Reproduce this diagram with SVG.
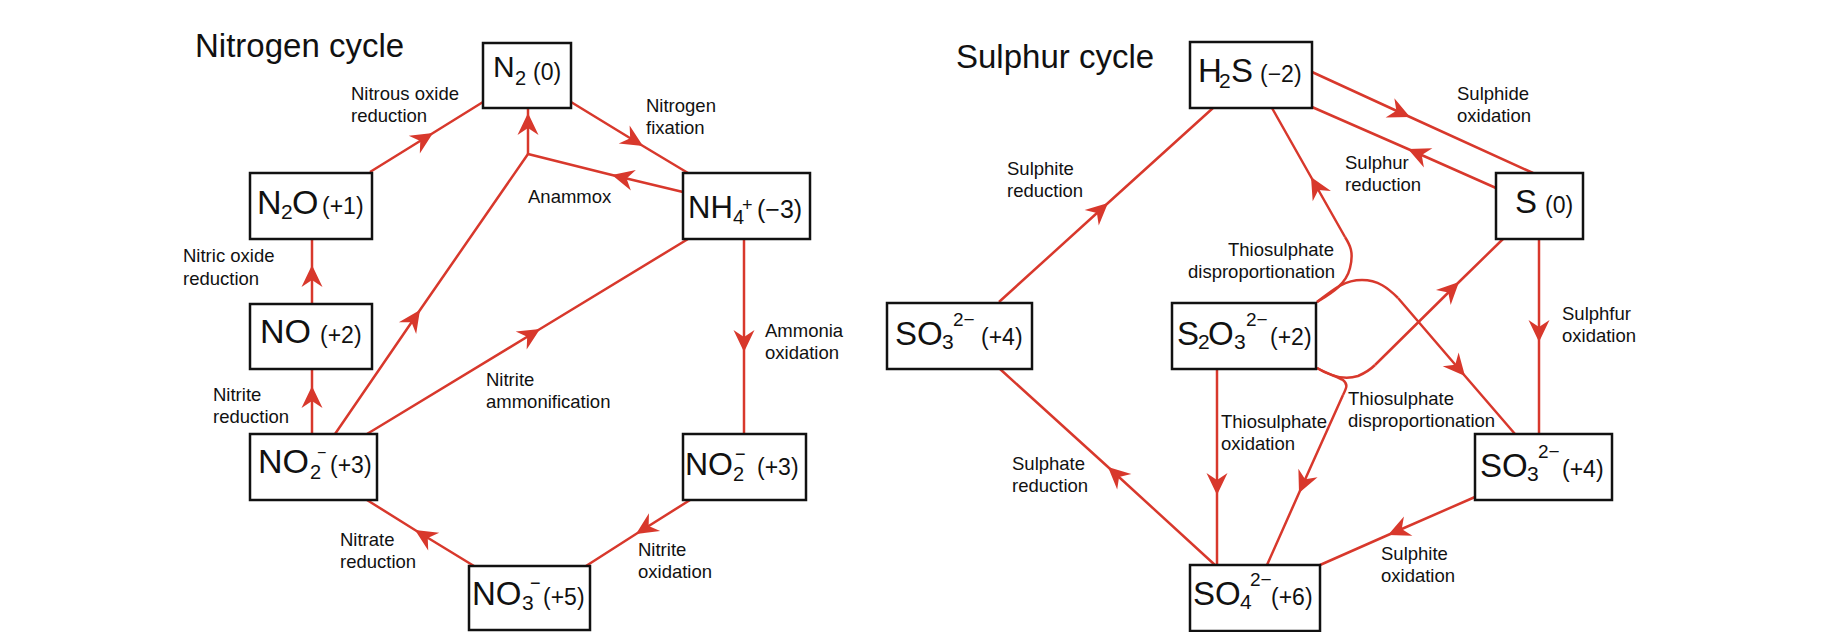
<svg xmlns="http://www.w3.org/2000/svg" width="1837" height="632" viewBox="0 0 1837 632">
<style>
.bg{fill:#fff}
.box{fill:#fff;stroke:#111;stroke-width:2.5}
.c{fill:none;stroke:#d8382c;stroke-width:2.5;stroke-linejoin:round}
.a{marker-mid:url(#ah)}
text{font-family:"Liberation Sans",Arial,Helvetica,sans-serif;fill:#111}
.t{font-size:33px}
.l{font-size:18.5px}
.m{font-size:34px}
.sb{font-size:21px}
.sp{font-size:19px}
.ox{font-size:23px}
</style>
<defs>
<marker id="ah" markerUnits="userSpaceOnUse" markerWidth="26" markerHeight="26" viewBox="-24 -13 26 26" refX="0" refY="0" orient="auto">
<path d="M0,0 L-22,-10.5 L-15,0 L-22,10.5 Z" fill="#d8382c"/>
</marker>
</defs>
<rect class="bg" x="0" y="0" width="1837" height="632"/>

<g id="titles">
<text class="t" x="195" y="57">Nitrogen cycle</text>
<text class="t" x="956" y="68">Sulphur cycle</text>
</g>

<g id="connectors">
<!-- Nitrogen -->
<path class="c a" d="M370,172 L433,133 L483,102"/>
<path class="c a" d="M571,102 L643,146 L688,173"/>
<path class="c a" d="M683,192 L612,175 L528,154"/>
<path class="c a" d="M528,154 L528,113 L528,108"/>
<path class="c a" d="M335,434 L420,310 L528,154"/>
<path class="c a" d="M367,434 L540,329 L688,239"/>
<path class="c a" d="M312,304 L312,265 L312,239"/>
<path class="c a" d="M312,434 L312,386 L312,369"/>
<path class="c a" d="M744,239 L744,352 L744,434"/>
<path class="c a" d="M690,500 L636,534 L586,566"/>
<path class="c a" d="M474,566 L415,530 L367,500"/>
<!-- Sulphur -->
<path class="c a" d="M999,302 L1108,203 L1213,108"/>
<path class="c a" d="M1312,72 L1410,117 L1533,173"/>
<path class="c a" d="M1496,188 L1408,149 L1312,107"/>
<path class="c a" d="M1539,239 L1539,342 L1539,434"/>
<path class="c a" d="M1475,497 L1388,535 L1320,565"/>
<path class="c a" d="M1217,369 L1217,495 L1217,565"/>
<path class="c a" d="M1215,565 L1108,467 L1000,369"/>
<!-- Thiosulphate disproportionation: S2O3 to H2S -->
<path class="c" d="M1317,302 C1330,294 1346,285 1350,268 C1354,252 1350,245 1345,237"/>
<path class="c a" d="M1345,237 L1311,177 L1272,108"/>
<!-- S2O3 to SO3 -->
<path class="c" d="M1317,302 C1335,288 1345,280 1362,280 C1378,280 1388,288 1398,298"/>
<path class="c a" d="M1398,298 L1465,376 L1515,434"/>
<!-- S2O3 to S -->
<path class="c" d="M1317,368 C1330,376 1345,380 1358,376 C1365,373 1370,370 1375,365"/>
<path class="c a" d="M1375,365 L1459,282 L1503,239"/>
<!-- S2O3 to SO4 -->
<path class="c" d="M1317,368 C1328,374 1338,377 1343,380 C1348,384 1347,387 1343,395"/>
<path class="c a" d="M1343,395 L1299,493 L1267,565"/>
</g>

<g id="labels">
<text class="l" x="351" y="100">Nitrous oxide</text>
<text class="l" x="351" y="122">reduction</text>
<text class="l" x="646" y="112">Nitrogen</text>
<text class="l" x="646" y="134">fixation</text>
<text class="l" x="528" y="203">Anammox</text>
<text class="l" x="183" y="262">Nitric oxide</text>
<text class="l" x="183" y="285">reduction</text>
<text class="l" x="213" y="401">Nitrite</text>
<text class="l" x="213" y="423">reduction</text>
<text class="l" x="486" y="386">Nitrite</text>
<text class="l" x="486" y="408">ammonification</text>
<text class="l" x="765" y="337">Ammonia</text>
<text class="l" x="765" y="359">oxidation</text>
<text class="l" x="340" y="546">Nitrate</text>
<text class="l" x="340" y="568">reduction</text>
<text class="l" x="638" y="556">Nitrite</text>
<text class="l" x="638" y="578">oxidation</text>
<text class="l" x="1007" y="175">Sulphite</text>
<text class="l" x="1007" y="197">reduction</text>
<text class="l" x="1457" y="100">Sulphide</text>
<text class="l" x="1457" y="122">oxidation</text>
<text class="l" x="1345" y="169">Sulphur</text>
<text class="l" x="1345" y="191">reduction</text>
<text class="l" x="1228" y="256">Thiosulphate</text>
<text class="l" x="1188" y="278">disproportionation</text>
<text class="l" x="1562" y="320">Sulphfur</text>
<text class="l" x="1562" y="342">oxidation</text>
<text class="l" x="1221" y="428">Thiosulphate</text>
<text class="l" x="1221" y="450">oxidation</text>
<text class="l" x="1348" y="405">Thiosulphate</text>
<text class="l" x="1348" y="427">disproportionation</text>
<text class="l" x="1012" y="470">Sulphate</text>
<text class="l" x="1012" y="492">reduction</text>
<text class="l" x="1381" y="560">Sulphite</text>
<text class="l" x="1381" y="582">oxidation</text>
</g>

<g id="n2">
<rect class="box" x="483" y="43" width="88" height="65"/>
<text><tspan class="m" x="493" y="77" style="font-size:30px">N</tspan><tspan class="sb" x="515" y="85" style="font-size:20px">2</tspan><tspan class="ox" x="533" y="80">(0)</tspan></text>
</g>
<g id="n2o">
<rect class="box" x="250" y="173" width="122" height="66"/>
<text><tspan class="m" x="257" y="214">N</tspan><tspan class="sb" x="281" y="219">2</tspan><tspan class="m" x="292" y="214">O</tspan><tspan class="ox" x="322" y="214">(+1)</tspan></text>
</g>
<g id="no">
<rect class="box" x="250" y="304" width="122" height="65"/>
<text><tspan class="m" x="260" y="343">NO</tspan><tspan class="ox" x="320" y="343">(+2)</tspan></text>
</g>
<g id="no2-left">
<rect class="box" x="250" y="434" width="127" height="66"/>
<text><tspan class="m" x="258" y="473">NO</tspan><tspan class="sb" x="310" y="479" style="font-size:20px">2</tspan><tspan class="sp" x="317" y="458" style="font-size:16px">−</tspan><tspan class="ox" x="330" y="473">(+3)</tspan></text>
</g>
<g id="nh4">
<rect class="box" x="683" y="173" width="127" height="66"/>
<text><tspan class="m" x="688" y="218" style="font-size:31px">NH</tspan><tspan class="sb" x="733" y="224" style="font-size:20px">4</tspan><tspan class="sp" x="742" y="211" style="font-size:18px">+</tspan><tspan class="ox" x="757" y="218" style="font-size:25px">(−3)</tspan></text>
</g>
<g id="no2-right">
<rect class="box" x="683" y="434" width="123" height="66"/>
<text><tspan class="m" x="685" y="475" style="font-size:32px">NO</tspan><tspan class="sb" x="733" y="481" style="font-size:20px">2</tspan><tspan class="sp" x="735" y="460" style="font-size:18px">−</tspan><tspan class="ox" x="757" y="475">(+3)</tspan></text>
</g>
<g id="no3">
<rect class="box" x="469" y="566" width="121" height="64"/>
<text><tspan class="m" x="472" y="605" style="font-size:33px">NO</tspan><tspan class="sb" x="522" y="610">3</tspan><tspan class="sp" x="530" y="589" style="font-size:18px">−</tspan><tspan class="ox" x="543" y="605">(+5)</tspan></text>
</g>

<g id="h2s">
<rect class="box" x="1190" y="42" width="122" height="66"/>
<text><tspan class="m" x="1198" y="82" style="font-size:33px">H</tspan><tspan class="sb" x="1219" y="88">2</tspan><tspan class="m" x="1231" y="82" style="font-size:33px">S</tspan><tspan class="ox" x="1260" y="82">(−2)</tspan></text>
</g>
<g id="s">
<rect class="box" x="1496" y="173" width="87" height="66"/>
<text><tspan class="m" x="1515" y="213" style="font-size:33px">S</tspan><tspan class="ox" x="1545" y="213">(0)</tspan></text>
</g>
<g id="so3-left">
<rect class="box" x="887" y="303" width="145" height="66"/>
<text><tspan class="m" x="895" y="345" style="font-size:33px">SO</tspan><tspan class="sb" x="942" y="349">3</tspan><tspan class="sp" x="953" y="326">2−</tspan><tspan class="ox" x="981" y="345">(+4)</tspan></text>
</g>
<g id="s2o3">
<rect class="box" x="1172" y="303" width="144" height="66"/>
<text><tspan class="m" x="1177" y="345" style="font-size:33px">S</tspan><tspan class="sb" x="1198" y="349">2</tspan><tspan class="m" x="1208" y="345" style="font-size:33px">O</tspan><tspan class="sb" x="1234" y="349">3</tspan><tspan class="sp" x="1246" y="326">2−</tspan><tspan class="ox" x="1270" y="345">(+2)</tspan></text>
</g>
<g id="so4">
<rect class="box" x="1190" y="565" width="130" height="66"/>
<text><tspan class="m" x="1193" y="605" style="font-size:33px">SO</tspan><tspan class="sb" x="1240" y="609">4</tspan><tspan class="sp" x="1250" y="586">2−</tspan><tspan class="ox" x="1271" y="605">(+6)</tspan></text>
</g>
<g id="so3-right">
<rect class="box" x="1475" y="434" width="137" height="66"/>
<text><tspan class="m" x="1480" y="477" style="font-size:33px">SO</tspan><tspan class="sb" x="1527" y="481">3</tspan><tspan class="sp" x="1538" y="458">2−</tspan><tspan class="ox" x="1562" y="477">(+4)</tspan></text>
</g>
</svg>
